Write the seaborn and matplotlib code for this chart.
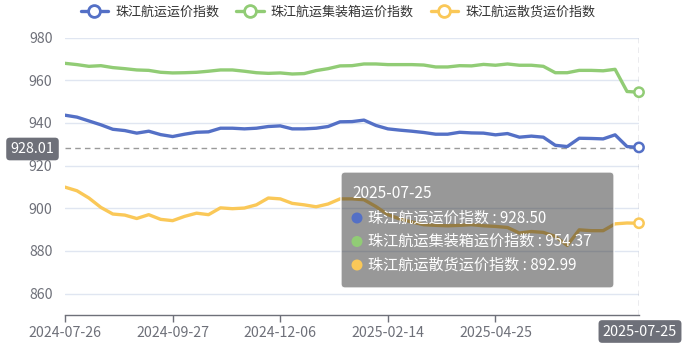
import matplotlib
matplotlib.use('Agg')
import matplotlib.pyplot as plt
import seaborn as sns
import pandas as pd
from matplotlib.patches import FancyBboxPatch, Circle
from matplotlib.lines import Line2D
from matplotlib.transforms import IdentityTransform

dates = ['2024-07-26', '2024-08-02', '2024-08-09', '2024-08-16', '2024-08-23', '2024-08-30',
         '2024-09-06', '2024-09-13', '2024-09-20', '2024-09-27', '2024-10-11', '2024-10-18',
         '2024-10-25', '2024-11-01', '2024-11-08', '2024-11-15', '2024-11-22', '2024-11-29',
         '2024-12-06', '2024-12-13', '2024-12-20', '2024-12-27', '2025-01-03', '2025-01-10',
         '2025-01-17', '2025-01-24', '2025-02-07', '2025-02-14', '2025-02-21', '2025-02-28',
         '2025-03-07', '2025-03-14', '2025-03-21', '2025-03-28', '2025-04-11', '2025-04-18',
         '2025-04-25', '2025-05-09', '2025-05-16', '2025-05-23', '2025-05-30', '2025-06-06',
         '2025-06-13', '2025-06-20', '2025-06-27', '2025-07-04', '2025-07-11', '2025-07-18',
         '2025-07-25']

freight = [943.6, 942.7, 940.9, 939.1, 937.0, 936.4, 935.2, 936.1, 934.5, 933.6,
           934.7, 935.6, 935.8, 937.5, 937.5, 937.2, 937.5, 938.3, 938.6, 937.2,
           937.2, 937.5, 938.3, 940.5, 940.6, 941.3, 938.8, 937.2, 936.6, 936.1,
           935.5, 934.7, 934.7, 935.6, 935.3, 935.2, 934.4, 935.0, 933.3, 933.8,
           933.3, 929.5, 928.9, 932.8, 932.7, 932.5, 934.4, 928.9, 928.50]

container = [967.9, 967.3, 966.5, 966.8, 965.9, 965.4, 964.8, 964.6, 963.7, 963.4,
             963.5, 963.7, 964.2, 964.8, 964.8, 964.2, 963.5, 963.2, 963.4, 962.9,
             963.1, 964.5, 965.4, 966.7, 966.8, 967.6, 967.6, 967.3, 967.3, 967.3,
             967.1, 966.2, 966.2, 966.8, 966.7, 967.4, 967.0, 967.6, 967.0, 967.0,
             966.5, 963.5, 963.5, 964.6, 964.6, 964.4, 965.1, 954.7, 954.37]

bulk = [909.9, 908.2, 904.8, 900.4, 897.3, 896.8, 895.2, 897.0, 894.8, 894.2,
        896.2, 897.7, 897.0, 900.2, 899.8, 900.1, 901.6, 904.8, 904.4, 902.3,
        901.6, 900.7, 902.0, 904.4, 904.4, 904.0, 900.8, 897.0, 895.0, 893.6,
        892.3, 892.0, 891.8, 892.0, 892.3, 891.8, 891.5, 891.0, 888.4, 889.1,
        888.7, 886.8, 882.6, 889.9, 889.5, 889.5, 892.7, 893.1, 892.99]

series_names = ['珠江航运运价指数', '珠江航运集装箱运价指数', '珠江航运散货运价指数']
colors = ['#5470c6', '#91cc75', '#fac858']
tick_dates = ['2024-07-26', '2024-09-27', '2024-12-06', '2025-02-14', '2025-04-25']
yticks = [860, 880, 900, 920, 940, 960, 980]
pointer_value = 928.01
pointer_date = '2025-07-25'
tooltip_values = ['928.50', '954.37', '892.99']

sns.set_theme(style='white')
plt.rcParams['font.family'] = ['Noto Sans CJK SC', 'DejaVu Sans']

W, H = 687, 352
fig = plt.figure(figsize=(W / 100, H / 100), dpi=100)
ax = fig.add_axes([65 / W, 1 - 315 / H, (639 - 65) / W, (315 - 37.5) / H])

n = len(dates)
df = pd.DataFrame({
    'idx': list(range(n)) * 3,
    'value': freight + container + bulk,
    'series': sum([[s] * n for s in series_names], []),
})
sns.lineplot(data=df, x='idx', y='value', hue='series', hue_order=series_names,
             palette=colors, linewidth=2.4, ax=ax, legend=False, zorder=3)

last = df[df['idx'] == n - 1]
sns.scatterplot(data=last, x='idx', y='value', hue='series', hue_order=series_names,
                palette=colors, ax=ax, legend=False, s=45, facecolor='white',
                linewidth=1.8, zorder=5, clip_on=False)
coll = ax.collections[-1]
coll.set_edgecolors(colors)
coll.set_facecolor('white')

ax.set_xlim(0, n - 1)
ax.set_ylim(850, 980)
ax.set_yticks(yticks)
ax.set_xticks([dates.index(d) for d in tick_dates])
ax.set_xticklabels(tick_dates)
ax.set_xlabel('')
ax.set_ylabel('')
for s in ['left', 'right', 'top']:
    ax.spines[s].set_visible(False)
ax.spines['bottom'].set_color('#6E7079')
ax.spines['bottom'].set_linewidth(1)
ax.yaxis.grid(True, color='#E0E6F1', linewidth=1)
ax.set_axisbelow(True)
ax.tick_params(axis='y', length=0, pad=9, labelsize=10.2, labelcolor='#6E7079')
ax.tick_params(axis='x', length=5, width=1, color='#6E7079', pad=3,
               labelsize=10.2, labelcolor='#6E7079', direction='out', bottom=True)

# crosshair pointer
ax.axhline(pointer_value, color='#9a9a9a', lw=1, ls=(0, (4, 3)), zorder=2)
ax.axvline(n - 1, color='#9a9aaa', lw=1, ls=(0, (4, 3)), zorder=2)

fig.text(32.5 / W, 1 - 149 / H, f'{pointer_value:.2f}', ha='center', va='center',
         color='white', fontsize=10.4,
         bbox=dict(boxstyle='round,pad=0.3,rounding_size=0.25', fc='#6E7079', ec='none'))
fig.text(640 / W, 1 - 331.5 / H, pointer_date, ha='center', va='center',
         color='white', fontsize=10.4,
         bbox=dict(boxstyle='round,pad=0.3,rounding_size=0.25', fc='#6E7079', ec='none'))

# tooltip
tip = FancyBboxPatch((341, H - 288), 273, 116,
                     boxstyle='round,pad=0,rounding_size=4',
                     fc=(50 / 255, 50 / 255, 50 / 255, 0.5), ec=(1, 1, 1, 0.9), lw=1,
                     transform=IdentityTransform(), zorder=10)
fig.add_artist(tip)
fig.text(352 / W, 1 - 194 / H, pointer_date, ha='left', va='center', color='white',
         fontsize=11.2, zorder=11)
row_y = [218, 241.5, 265]
for name, val, c, yy in zip(series_names, tooltip_values, colors, row_y):
    fig.add_artist(Circle((357, H - yy), 5.5, fc=c, ec='none',
                          transform=IdentityTransform(), zorder=11))
    fig.text(368 / W, 1 - yy / H, f'{name} : {val}', ha='left', va='center',
             color='white', fontsize=10.9, zorder=11)

# legend
handles = [Line2D([0], [0], color=c, lw=2.4, marker='o', markersize=8.5,
                  markerfacecolor='white', markeredgecolor=c, markeredgewidth=2)
           for c in colors]
fig.legend(handles, series_names, loc='center', bbox_to_anchor=(338 / W, 1 - 12 / H),
           ncol=3, frameon=False, fontsize=9.4, handlelength=2.1, handletextpad=0.55,
           columnspacing=1.3, labelcolor='#333333', borderaxespad=0, borderpad=0)

fig.savefig('out.png', dpi=100)
